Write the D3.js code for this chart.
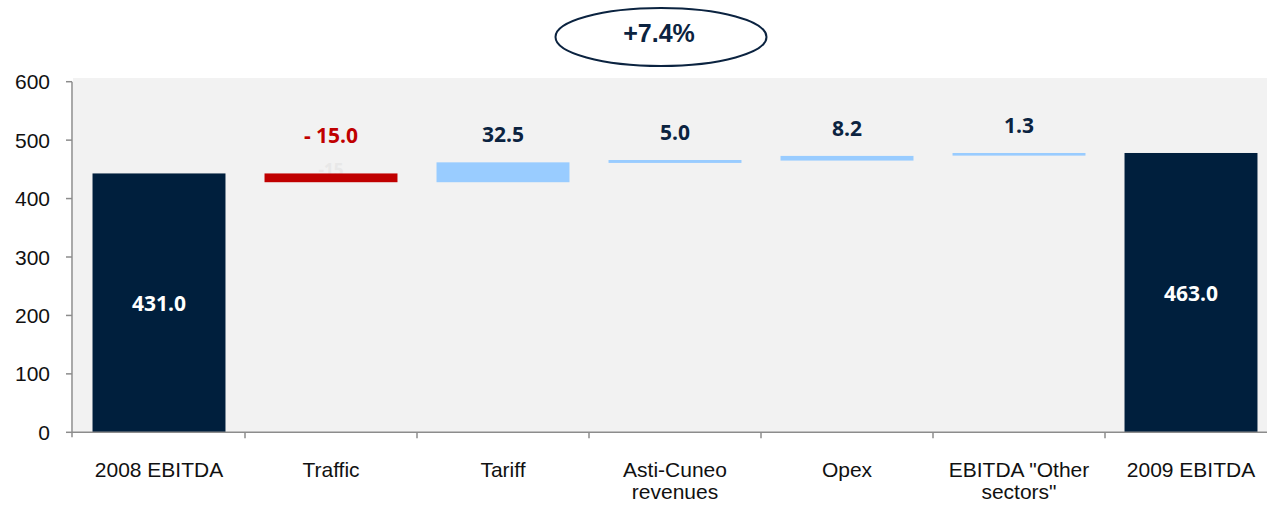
<!DOCTYPE html>
<html>
<head>
<meta charset="utf-8">
<script src="https://cdn.jsdelivr.net/npm/d3@7"></script>
<style>
  body { margin: 0; background: #fff; }
  svg { display: block; }
</style>
</head>
<body>
<div id="container"></div>
<script>
// categories (\n marks a line break in the axis label)
const categories = ["2008 EBITDA", "Traffic", "Tariff", "Asti-Cuneo\nrevenues", "Opex", "EBITDA \"Other\nsectors\"", "2009 EBITDA"];
// bar extents as drawn in the picture (bottom, top)
const barLow  = [0,   428, 428, 461, 465, 473.5, 0];
const barHigh = [443, 443, 462, 466, 473, 478,   478];
// printed data labels
const valueLabels = ["431.0", "- 15.0", "32.5", "5.0", "8.2", "1.3", "463.0"];
const barType = ["total", "neg", "pos", "pos", "pos", "pos", "total"];
const yTicks = [0, 100, 200, 300, 400, 500, 600];
const growthLabel = "+7.4%";

const W = 1267, H = 505;
const navy = "#001f3d", red = "#c00000", lightBlue = "#99ccff";

const svg = d3.select("#container").append("svg")
  .attr("width", W)
  .attr("height", H);

const yScale = d3.scaleLinear().domain([0, 600]).range([432.3, 81.7]);
const xScale = d3.scaleBand()
  .domain(categories)
  .range([73, 1277])
  .paddingInner(0.227)
  .paddingOuter(0.1135);
const step = xScale.step();
const gap = (step - xScale.bandwidth()) / 2;

// plot background
svg.append("rect")
  .attr("x", 73).attr("y", 78)
  .attr("width", W - 73).attr("height", yScale(0) - 78)
  .attr("fill", "#f2f2f2");

// faint hidden label behind the traffic bar
svg.append("text")
  .attr("x", xScale(categories[1]) + xScale.bandwidth() / 2)
  .attr("y", 176)
  .attr("text-anchor", "middle")
  .style("font-family", "'Open Sans', sans-serif")
  .style("font-weight", 700)
  .style("font-size", "17px")
  .attr("fill", "#e8e8e8")
  .text("-15");

// bars
svg.selectAll("rect.bar")
  .data(categories)
  .enter()
  .append("rect")
  .attr("class", "bar")
  .attr("x", d => xScale(d))
  .attr("width", xScale.bandwidth())
  .attr("y", (d, i) => yScale(barHigh[i]))
  .attr("height", (d, i) => yScale(barLow[i]) - yScale(barHigh[i]))
  .attr("fill", (d, i) => barType[i] === "total" ? navy : (barType[i] === "neg" ? red : lightBlue));

// value labels
svg.selectAll("text.val")
  .data(categories)
  .enter()
  .append("text")
  .attr("class", "val")
  .attr("x", d => xScale(d) + xScale.bandwidth() / 2)
  .attr("y", (d, i) => {
    if (barType[i] === "total") return (yScale(barHigh[i]) + yScale(0)) / 2 + 8;
    return Math.min(143.3, yScale(barHigh[i]) - 20);
  })
  .attr("text-anchor", "middle")
  .style("font-family", "'Open Sans', sans-serif")
  .style("font-weight", 700)
  .style("font-size", "21px")
  .attr("fill", (d, i) => barType[i] === "total" ? "#ffffff" : (barType[i] === "neg" ? red : "#0b2340"))
  .text((d, i) => valueLabels[i]);

// y axis
const axisColor = "#8c8c8c";
const yAxis = svg.append("g").attr("id", "y-axis");
yAxis.append("line")
  .attr("x1", 72).attr("x2", 72)
  .attr("y1", yScale(600)).attr("y2", yScale(0) + 5)
  .attr("stroke", axisColor).attr("stroke-width", 1.5);
yAxis.selectAll("line.tick")
  .data(yTicks)
  .enter()
  .append("line")
  .attr("class", "tick")
  .attr("x1", 66).attr("x2", 72)
  .attr("y1", d => yScale(d)).attr("y2", d => yScale(d))
  .attr("stroke", axisColor).attr("stroke-width", 1.5);
yAxis.selectAll("text")
  .data(yTicks)
  .enter()
  .append("text")
  .attr("x", 50)
  .attr("y", d => yScale(d) + 7.5)
  .attr("text-anchor", "end")
  .style("font-family", "'Liberation Sans', Arial, sans-serif")
  .style("font-size", "21px")
  .attr("fill", "#111")
  .text(d => d);

// x axis
const xAxis = svg.append("g").attr("id", "x-axis");
xAxis.append("line")
  .attr("x1", 72).attr("x2", W)
  .attr("y1", yScale(0)).attr("y2", yScale(0))
  .attr("stroke", axisColor).attr("stroke-width", 1.5);
xAxis.selectAll("line.tick")
  .data(categories.slice(1))
  .enter()
  .append("line")
  .attr("class", "tick")
  .attr("x1", d => xScale(d) - gap).attr("x2", d => xScale(d) - gap)
  .attr("y1", yScale(0)).attr("y2", yScale(0) + 6)
  .attr("stroke", axisColor).attr("stroke-width", 1.5);
xAxis.selectAll("text")
  .data(categories)
  .enter()
  .append("text")
  .attr("x", d => xScale(d) + xScale.bandwidth() / 2)
  .attr("y", 476.7)
  .attr("text-anchor", "middle")
  .style("font-family", "'Liberation Sans', Arial, sans-serif")
  .style("font-size", "21px")
  .attr("fill", "#111")
  .each(function(d) {
    const lines = d.split("\n");
    const t = d3.select(this);
    lines.forEach((ln, k) => {
      t.append("tspan")
        .attr("x", xScale(d) + xScale.bandwidth() / 2)
        .attr("dy", k === 0 ? 0 : 22.3)
        .text(ln);
    });
  });

// growth bubble
svg.append("ellipse")
  .attr("cx", 661).attr("cy", 37)
  .attr("rx", 105.5).attr("ry", 29)
  .attr("fill", "#fff")
  .attr("stroke", "#0b2340")
  .attr("stroke-width", 2);
svg.append("text")
  .attr("x", 659)
  .attr("y", 42)
  .attr("text-anchor", "middle")
  .style("font-family", "'Liberation Sans', Arial, sans-serif")
  .style("font-weight", 700)
  .style("font-size", "25px")
  .attr("fill", "#0b2340")
  .text(growthLabel);
</script>
</body>
</html>
